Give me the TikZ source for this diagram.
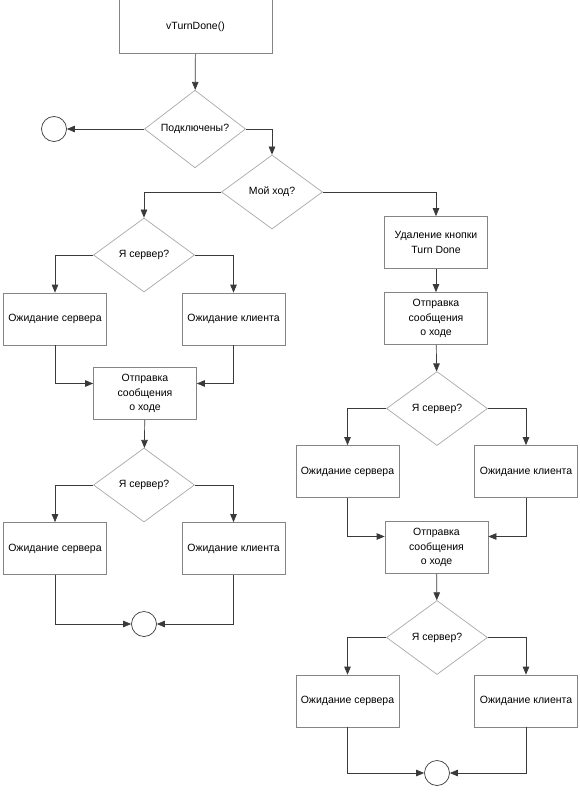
\documentclass[tikz,border=0pt]{standalone}
\usepackage{fontspec}
\setmainfont{Liberation Sans}
\usetikzlibrary{shapes.geometric, arrows.meta}
\definecolor{boxgray}{HTML}{858585}
\definecolor{diagray}{HTML}{A8A8A8}
\definecolor{linegray}{HTML}{3A3A3A}

\begin{document}
\begin{tikzpicture}[x=1pt, y=-1pt,
    every node/.style={font=\fontsize{10.5}{14.5}\selectfont, align=center},
    procbox/.style={draw=boxgray, line width=0.7pt, minimum width=103pt, minimum height=52pt, inner sep=0pt},
    askbox/.style={draw=diagray, line width=0.7pt, diamond, minimum width=101pt, minimum height=74pt, inner sep=0pt},
    endpt/.style={draw=linegray, line width=0.7pt, circle, minimum size=25pt, inner sep=0pt},
    arr/.style={draw=linegray, line width=0.7pt, -{Triangle[length=8pt, width=6.5pt]}}]
    \useasboundingbox (0,0) rectangle (579,794);
    \node[procbox, minimum width=153pt, minimum height=54pt] (start) at (195.5,26.5) {vTurnDone()};
    \node[askbox] (conn) at (195,129) {Подключены?};
    \node[endpt] (exitA) at (54,129) {};
    \node[askbox] (turn) at (272,192) {Мой ход?};
    \node[askbox] (srvA) at (144,255) {Я сервер?};
    \node[procbox] (waitSA) at (55,319) {Ожидание сервера};
    \node[procbox] (waitCA) at (233.5,319) {Ожидание клиента};
    \node[procbox] (sendA) at (145,393.5) {Отправка\\сообщения\\о ходе};
    \node[askbox] (srvB) at (144,485) {Я сервер?};
    \node[procbox] (waitSB) at (55,548.5) {Ожидание сервера};
    \node[procbox] (waitCB) at (233.5,548.5) {Ожидание клиента};
    \node[endpt] (exitB) at (144,624) {};
    \node[procbox] (delbtn) at (436,242.5) {Удаление кнопки\\Turn Done};
    \node[procbox] (sendB) at (436,318.5) {Отправка\\сообщения\\о ходе};
    \node[askbox] (srvC) at (437,408.5) {Я сервер?};
    \node[procbox] (waitSC) at (347.5,471.5) {Ожидание сервера};
    \node[procbox] (waitCC) at (526,471.5) {Ожидание клиента};
    \node[procbox] (sendC) at (436.5,547.5) {Отправка\\сообщения\\о ходе};
    \node[askbox] (srvD) at (437,637.5) {Я сервер?};
    \node[procbox] (waitSD) at (347.5,701) {Ожидание сервера};
    \node[procbox] (waitCD) at (526,701) {Ожидание клиента};
    \node[endpt] (exitC) at (437,773) {};
    \draw[arr] (start) -- (conn);
    \draw[arr] (conn) -- (exitA);
    \draw[arr] (conn.east) -| (turn.north);
    \draw[arr] (turn.west) -| (srvA.north);
    \draw[arr] (turn.east) -| (delbtn.north);
    \draw[arr] (srvA.west) -| (waitSA.north);
    \draw[arr] (srvA.east) -| (waitCA.north);
    \draw[arr] (waitSA.south) |- ([yshift=10pt]sendA.west);
    \draw[arr] (waitCA.south) |- ([yshift=10pt]sendA.east);
    \draw[arr] (sendA) -- (srvB);
    \draw[arr] (srvB.west) -| (waitSB.north);
    \draw[arr] (srvB.east) -| (waitCB.north);
    \draw[arr] (waitSB.south) |- (exitB.west);
    \draw[arr] (waitCB.south) |- (exitB.east);
    \draw[arr] (delbtn) -- (sendB);
    \draw[arr] (sendB) -- (srvC);
    \draw[arr] (srvC.west) -| (waitSC.north);
    \draw[arr] (srvC.east) -| (waitCC.north);
    \draw[arr] (waitSC.south) |- ([yshift=11pt]sendC.west);
    \draw[arr] (waitCC.south) |- ([yshift=11pt]sendC.east);
    \draw[arr] (sendC) -- (srvD);
    \draw[arr] (srvD.west) -| (waitSD.north);
    \draw[arr] (srvD.east) -| (waitCD.north);
    \draw[arr] (waitSD.south) |- (exitC.west);
    \draw[arr] (waitCD.south) |- (exitC.east);
\end{tikzpicture}
\end{document}
